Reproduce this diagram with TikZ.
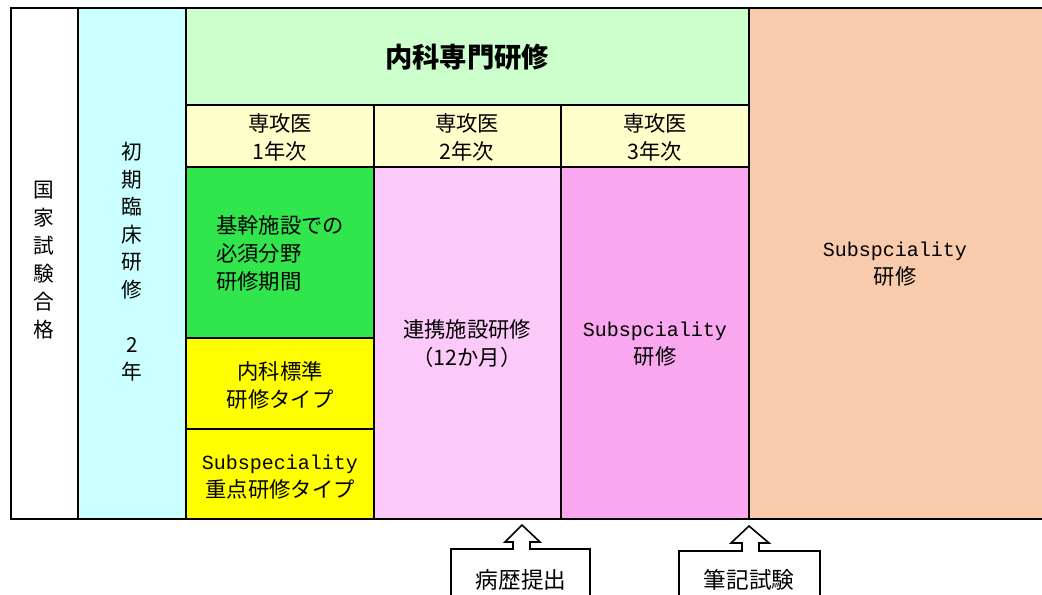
\documentclass[tikz,border=0pt]{standalone}
\usepackage{fontspec}
\setmainfont{Noto Sans CJK JP}
\newfontfamily\latmono{Liberation Mono}
\definecolor{cyanL}{HTML}{CCFFFF}
\definecolor{hdrG}{HTML}{CCFFCC}
\definecolor{yrY}{HTML}{FFFFCC}
\definecolor{grn}{HTML}{30E64C}
\definecolor{yel}{HTML}{FFFF00}
\definecolor{pinkL}{HTML}{FCCAF8}
\definecolor{pinkD}{HTML}{F9A7EF}
\definecolor{peach}{HTML}{F8CBAD}
\tikzset{
  cellbox/.style={draw=black, line width=1.2pt},
  txt/.style={align=center, inner sep=0pt, font=\fontsize{16}{21}\selectfont},
  vtxt/.style={align=center, inner sep=0pt, font=\fontsize{15.5}{21}\selectfont},
  callout/.style={draw=black, line width=1.2pt, fill=white},
}
\begin{document}
\begin{tikzpicture}[x=0.75pt,y=-0.75pt]
\path[use as bounding box] (0,0) rectangle (1042,594);
\clip (0,0) rectangle (1042,594);
% cells
\path[cellbox, fill=white] (11,8) rectangle (78,519);
\path[cellbox, fill=cyanL] (78,8) rectangle (186,519);
\path[cellbox, fill=hdrG] (186,8) rectangle (749,105);
\path[cellbox, fill=yrY] (186,105) rectangle (374,167);
\path[cellbox, fill=yrY] (374,105) rectangle (561,167);
\path[cellbox, fill=yrY] (561,105) rectangle (749,167);
\path[cellbox, fill=grn] (186,167) rectangle (374,338);
\path[cellbox, fill=yel] (186,338) rectangle (374,429);
\path[cellbox, fill=yel] (186,429) rectangle (374,519);
\path[cellbox, fill=pinkL] (374,167) rectangle (561,519);
\path[cellbox, fill=pinkD] (561,167) rectangle (749,519);
\path[cellbox, fill=peach] (749,8) rectangle (1060,519);
% texts
\node[vtxt] (pass) at (44,260) {国\\家\\試\\験\\合\\格};
\node[align=center, inner sep=0pt, font=\fontsize{15.5}{20.6}\selectfont] (init) at (132,262) {初\\期\\臨\\床\\研\\修\\[20.6pt]2\\年};
\node[align=center, inner sep=0pt, font=\fontsize{20.5}{24}\selectfont\bfseries] (head) at (467,57) {内科専門研修};
\node[txt] (y1) at (280,137) {専攻医\\1年次};
\node[txt] (y2) at (467,137) {専攻医\\2年次};
\node[txt] (y3) at (655,137) {専攻医\\3年次};
\node[align=left, inner sep=0pt, font=\fontsize{16}{21}\selectfont] (core) at (280,253) {基幹施設での\\必須分野\\研修期間};
\node[txt] (std) at (280,385) {内科標準\\研修タイプ};
\node[txt] (sub) at (280,477) {{\latmono\fontsize{15}{21}\selectfont Subspeciality}\\重点研修タイプ};
\node[txt] (coop) at (467,344) {連携施設研修\\（12か月）};
\node[txt] (sub3) at (655,344) {{\latmono\fontsize{15}{21}\selectfont Subspciality}\\研修};
\node[txt] (subp) at (895,264) {{\latmono\fontsize{15}{21}\selectfont Subspciality}\\研修};
% callouts
\path[callout] (451,620) -- (451,549) -- (513,549) -- (513,542) -- (505,542) -- (522,525)
  -- (540,542) -- (530,542) -- (530,549) -- (590,549) -- (590,620);
\path[callout] (679,620) -- (679,551) -- (742,551) -- (742,543) -- (731,543) -- (749,526)
  -- (769,543) -- (759,543) -- (759,551) -- (820,551) -- (820,620);
\node[inner sep=0pt, font=\fontsize{17}{20}\selectfont] (hist) at (521,580) {病歴提出};
\node[inner sep=0pt, font=\fontsize{17}{20}\selectfont] (exam) at (749,580) {筆記試験};
\end{tikzpicture}
\end{document}
